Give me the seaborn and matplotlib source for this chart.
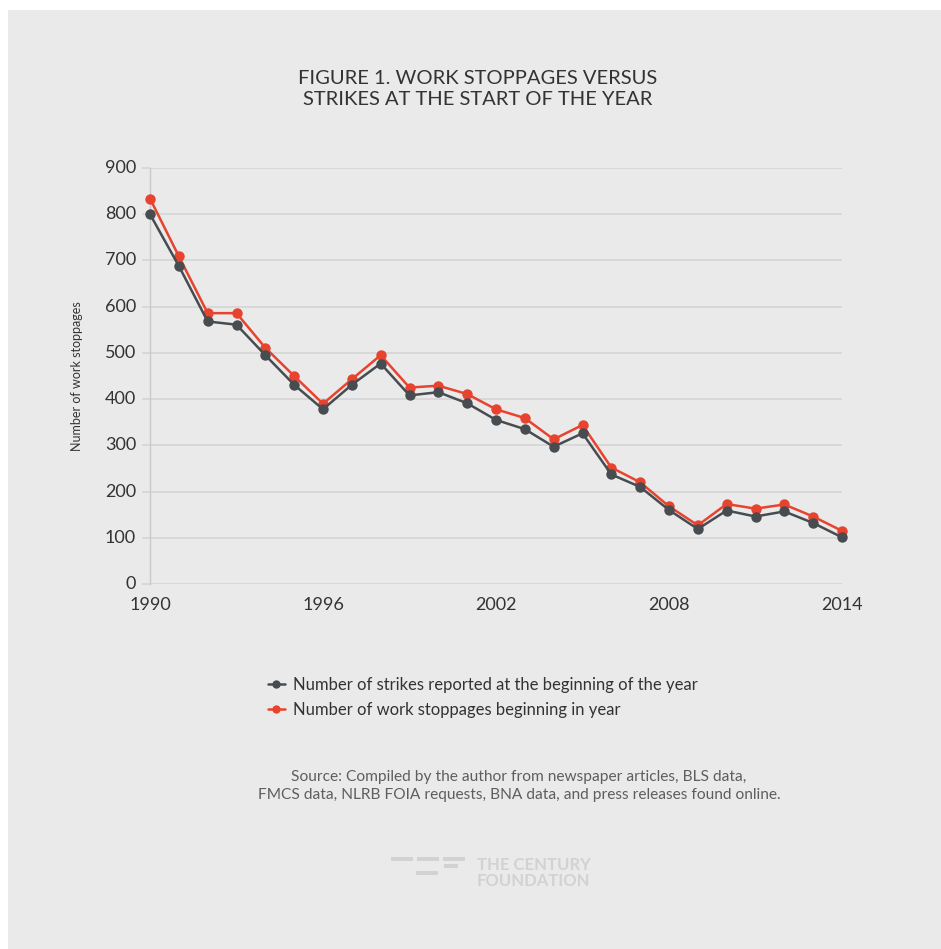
import numpy as np
import pandas as pd
import matplotlib
matplotlib.use("Agg")
import matplotlib.pyplot as plt
from matplotlib.patches import Rectangle
import seaborn as sns

# --- data ---
years = list(range(1990, 2015))
strikes_start = [800, 688, 568, 561, 495, 431, 378, 431, 477, 408, 415, 391, 355,
                 335, 297, 326, 237, 210, 160, 119, 159, 146, 157, 132, 101]
stoppages_year = [834, 709, 586, 586, 511, 450, 390, 443, 495, 425, 429, 411, 378,
                  359, 313, 344, 252, 220, 168, 127, 173, 163, 172, 146, 115]
series_names = ["Number of strikes reported at the beginning of the year",
                "Number of work stoppages beginning in year"]
x_ticks = [1990, 1996, 2002, 2008, 2014]
y_ticks = [0, 100, 200, 300, 400, 500, 600, 700, 800, 900]

title = "FIGURE 1. WORK STOPPAGES VERSUS\nSTRIKES AT THE START OF THE YEAR"
source = ("Source: Compiled by the author from newspaper articles, BLS data,\n"
          "FMCS data, NLRB FOIA requests, BNA data, and press releases found online.")

BG = "#eaeaea"
GRID = "#d7d7d7"
TEXT = "#333333"
colors = {series_names[0]: "#474c50", series_names[1]: "#e8432e"}

sns.set_theme(style="white")
plt.rcParams["font.family"] = ["Lato", "DejaVu Sans"]

df = pd.DataFrame({
    "year": years * 2,
    "value": strikes_start + stoppages_year,
    "series": [series_names[0]] * len(years) + [series_names[1]] * len(years),
})

fig = plt.figure(figsize=(9.41, 9.49), dpi=100)
fig.patch.set_facecolor("white")
fig.patches.append(Rectangle((8 / 941, 0), 1, 1 - 10 / 949, transform=fig.transFigure,
                             facecolor=BG, edgecolor="none", zorder=-10))

ax = fig.add_axes([150 / 941, 1 - 584 / 949, 692 / 941, 416 / 949])
ax.set_facecolor(BG)

# red first so the gray line sits on top, as in the original
for name in [series_names[1], series_names[0]]:
    sub = df[df["series"] == name]
    sns.lineplot(data=sub, x="year", y="value", color=colors[name], marker="o",
                 markersize=7.5, markeredgewidth=0, linewidth=1.8, ax=ax,
                 label=name, clip_on=False, zorder=3)

ax.set_xlim(1990, 2014)
ax.set_ylim(0, 900)
ax.set_xticks(x_ticks)
ax.set_yticks(y_ticks)
ax.grid(axis="y", color=GRID, linewidth=1.3)
ax.grid(axis="x", visible=False)
for side in ["top", "right", "bottom"]:
    ax.spines[side].set_visible(False)
ax.spines["left"].set_color("#c9c9c9")
ax.spines["left"].set_linewidth(1.0)
ax.tick_params(axis="y", length=6, width=1.3, color=GRID, pad=4, labelsize=13,
               labelcolor=TEXT, left=True)
ax.tick_params(axis="x", length=0, pad=9, labelsize=13, labelcolor=TEXT)
for lbl in ax.get_yticklabels():
    lbl.set_verticalalignment("center")
ax.set_xlabel("")
ax.set_ylabel("Number of work stoppages", fontsize=9, color=TEXT, labelpad=16)

handles, labels = ax.get_legend_handles_labels()
order = [labels.index(n) for n in series_names]
leg = ax.legend([handles[i] for i in order], [labels[i] for i in order],
                loc="upper left", bbox_to_anchor=(253 / 941, 1 - 662 / 949),
                bbox_transform=fig.transFigure, frameon=False, fontsize=12,
                handlelength=1.0, handletextpad=0.5, labelspacing=0.55,
                labelcolor=TEXT)
for h in leg.legend_handles:
    h.set_markersize(6)

fig.text(478 / 941, 1 - 89 / 949, title, ha="center", va="center", fontsize=14.5,
         color=TEXT, linespacing=1.25)
fig.text(519 / 941, 1 - 786 / 949, source, ha="center", va="center", fontsize=11.2,
         color="#5e5e5e", linespacing=1.45)

# faint foundation logo
logo = "#d2d2d2"
for (x0, y0, w) in [(391, 857, 22), (417, 857, 22), (443, 857, 22),
                    (444, 864, 14), (416, 871, 22)]:
    fig.patches.append(Rectangle((x0 / 941, 1 - (y0 + 4) / 949), w / 941, 4 / 949,
                                 transform=fig.transFigure, facecolor=logo,
                                 edgecolor="none"))
fig.text(477 / 941, 1 - 873 / 949, "THE CENTURY\nFOUNDATION", ha="left", va="center",
         fontsize=12, fontweight="bold", color=logo, linespacing=1.0)

fig.savefig("out.png", dpi=100, facecolor=fig.get_facecolor())
